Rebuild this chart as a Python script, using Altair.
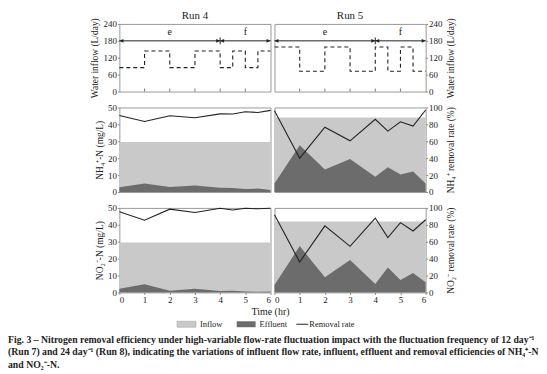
import altair as alt
import pandas as pd

# ---------------- data ----------------
hours = [0, 1, 2, 3, 4, 4.5, 5, 5.5, 6]
flow_run4 = [85, 144, 85, 144, 85, 144, 85, 144, 144]
flow_run5 = [158, 72, 158, 72, 158, 72, 158, 72, 72]

period_names = ["e", "f"]
period_start = [0, 4]
period_end = [4, 6]

nh4_inflow_run4 = 29.6
nh4_inflow_run5 = 44.0
nh4_eff_run4 = [2.8, 5.0, 3.0, 3.8, 2.5, 2.3, 1.8, 2.0, 1.2]
nh4_eff_run5 = [5.0, 27.6, 13.3, 19.5, 9.0, 14.6, 10.4, 12.1, 5.0]
nh4_rate_run4 = [90.6, 83.4, 90.2, 87.8, 92.4, 92.2, 95.0, 94.0, 96.6]
nh4_rate_run5 = [96.0, 40.0, 76.6, 60.5, 86.0, 72.0, 83.0, 78.0, 97.0]

no2_inflow_run4 = 29.6
no2_inflow_run5 = 42.0
no2_eff_run4 = [2.2, 4.8, 1.0, 2.2, 0.8, 1.0, 0.6, 0.4, 0.5]
no2_eff_run5 = [4.4, 27.4, 8.9, 19.2, 5.0, 14.8, 7.3, 11.5, 6.0]
no2_rate_run4 = [95.5, 85.5, 98.5, 94.5, 99.5, 97.5, 99.5, 99.0, 99.5]
no2_rate_run5 = [92.0, 36.0, 78.7, 54.5, 88.0, 65.0, 82.6, 72.7, 86.0]

run_names = ["Run 4", "Run 5"]
legend_labels = ["Inflow", "Effluent", "Removal rate"]
caption_lines = [
    "Fig. 3 \u2013 Nitrogen removal efficiency under high-variable flow-rate fluctuation impact with the fluctuation frequency of 12 day\u207b\u00b9",
    "(Run 7) and 24 day\u207b\u00b9 (Run 8), indicating the variations of influent flow rate, influent, effluent and removal efficiencies of NH\u2084\u207a-N",
    "and NO\u2082\u207b-N.",
]

# ---------------- style ----------------
FONT = "Liberation Serif"
LIGHT = "#c9c9c9"
DARK = "#6c6c6c"
INK = "#222222"
W = 152
H_TOP = 68
H_CONC = 85

# arrowhead paths with the tip at the symbol's origin
TIP_RIGHT = "M0,0L-2,-0.9L-2,0.9Z"
TIP_LEFT = "M0,0L2,-0.9L2,0.9Z"

xscale = alt.Scale(domain=[0, 6], nice=False, zero=False)


def right_axis(values, title):
    return alt.Axis(values=values, title=title, orient="right", titleAngle=270,
                    titleBaseline="top", titlePadding=4)


def flow_panel(flow, run, side):
    df = pd.DataFrame({"t": hours, "flow": flow})
    yscale = alt.Scale(domain=[0, 240], nice=False)
    if side == "left":
        yaxis = alt.Axis(values=[0, 60, 120, 180, 240], title="Water inflow (L/day)")
    else:
        yaxis = right_axis([0, 60, 120, 180, 240], "Water inflow (L/day)")
    x = alt.X("t:Q", scale=xscale, axis=None)
    line = alt.Chart(df).mark_line(
        interpolate="step-after", strokeDash=[4, 3], color=INK, strokeWidth=1.1
    ).encode(x=x, y=alt.Y("flow:Q", scale=yscale, axis=yaxis))

    per = pd.DataFrame({"name": period_names, "s": period_start, "e": period_end,
                        "lvl": [180, 180], "lab": [210, 210],
                        "mid": [(a + b) / 2 for a, b in zip(period_start, period_end)]})
    arrow = alt.Chart(per).mark_rule(color=INK, strokeWidth=1).encode(
        x=alt.X("s:Q", scale=xscale, axis=None), x2="e:Q",
        y=alt.Y("lvl:Q", scale=yscale, axis=yaxis))
    heads_l = alt.Chart(per).mark_point(shape=TIP_LEFT, filled=True, size=16,
                                        color=INK, opacity=1).encode(
        x=alt.X("s:Q", scale=xscale, axis=None), y=alt.Y("lvl:Q", scale=yscale, axis=yaxis))
    heads_r = alt.Chart(per).mark_point(shape=TIP_RIGHT, filled=True, size=16,
                                        color=INK, opacity=1).encode(
        x=alt.X("e:Q", scale=xscale, axis=None), y=alt.Y("lvl:Q", scale=yscale, axis=yaxis))
    divider = alt.Chart(per.iloc[[1]]).mark_rule(color=INK).encode(
        x=alt.X("s:Q", scale=xscale, axis=None),
        y=alt.value(H_TOP * (1 - 192 / 240)), y2=alt.value(H_TOP * (1 - 168 / 240)))
    labels = alt.Chart(per).mark_text(font=FONT, fontSize=10, color=INK).encode(
        x=alt.X("mid:Q", scale=xscale, axis=None), y=alt.Y("lab:Q", scale=yscale, axis=yaxis),
        text="name:N")
    ticks = alt.Chart(pd.DataFrame({"t": [1, 2, 3, 4, 5]})).mark_rule(color="#777").encode(
        x=alt.X("t:Q", scale=xscale, axis=None), y=alt.value(H_TOP), y2=alt.value(H_TOP - 3))
    head = alt.Chart(pd.DataFrame({"run": [run]})).mark_text(
        font=FONT, fontSize=11, color=INK, baseline="bottom").encode(
        text="run:N", x=alt.value(W / 2), y=alt.value(-3))
    return alt.layer(line, arrow, heads_l, heads_r, divider, labels, ticks, head).properties(
        width=W, height=H_TOP)


def conc_panel(inflow, eff, rate, side, ylabel, rlabel, show_x, extra=None):
    df = pd.DataFrame({"t": hours, "c": eff, "rate": rate})
    inflow_df = pd.DataFrame({"t": [0, 6], "c": [inflow, inflow]})
    if show_x:
        xaxis = alt.Axis(values=[0, 1, 2, 3, 4, 5, 6], format="d", title=None)
    else:
        xaxis = None
    x = alt.X("t:Q", scale=xscale, axis=xaxis)
    yscale = alt.Scale(domain=[0, 50], nice=False)
    rscale = alt.Scale(domain=[0, 100], nice=False)
    if side == "left":
        laxis = alt.Axis(values=[0, 10, 20, 30, 40, 50], title=ylabel)
        raxis = None
    else:
        laxis = None
        raxis = right_axis([0, 20, 40, 60, 80, 100], rlabel)
    a1 = alt.Chart(inflow_df).mark_area(color=LIGHT, opacity=1).encode(
        x=x, y=alt.Y("c:Q", scale=yscale, axis=laxis))
    a2 = alt.Chart(df).mark_area(color=DARK, opacity=1).encode(
        x=x, y=alt.Y("c:Q", scale=yscale, axis=laxis))
    areas = alt.layer(a1, a2)
    ln = alt.Chart(df).mark_line(color=INK, strokeWidth=1.1).encode(
        x=x, y=alt.Y("rate:Q", scale=rscale, axis=raxis))
    panel = alt.layer(areas, ln).resolve_scale(y="independent")
    if extra is not None:
        panel = alt.layer(panel, *extra)
    return panel.properties(width=W, height=H_CONC)


# ---------------- legend marks (placed under the bottom-left panel) ----------------
one = pd.DataFrame({"label": ["Time (hr)"]})
leg = pd.DataFrame({"label": legend_labels})
LY = H_CONC + 32
time_title = alt.Chart(one).mark_text(font=FONT, fontSize=10, color=INK).encode(
    text="label:N", x=alt.value(W), y=alt.value(H_CONC + 20))
box_in = alt.Chart(leg.iloc[[0]]).mark_rect(color=LIGHT, stroke="#999", strokeWidth=0.5).encode(
    x=alt.value(58), x2=alt.value(77), y=alt.value(LY - 3), y2=alt.value(LY + 3))
box_ef = alt.Chart(leg.iloc[[1]]).mark_rect(color=DARK).encode(
    x=alt.value(118), x2=alt.value(137), y=alt.value(LY - 3), y2=alt.value(LY + 3))
rule_rr = alt.Chart(leg.iloc[[2]]).mark_rule(color=INK, strokeWidth=1).encode(
    x=alt.value(178), x2=alt.value(190), y=alt.value(LY))
t_in = alt.Chart(leg.iloc[[0]]).mark_text(font=FONT, fontSize=8.5, align="left", color=INK).encode(
    text="label:N", x=alt.value(81), y=alt.value(LY))
t_ef = alt.Chart(leg.iloc[[1]]).mark_text(font=FONT, fontSize=8.5, align="left", color=INK).encode(
    text="label:N", x=alt.value(141), y=alt.value(LY))
t_rr = alt.Chart(leg.iloc[[2]]).mark_text(font=FONT, fontSize=8.5, align="left", color=INK).encode(
    text="label:N", x=alt.value(191), y=alt.value(LY))
legend_layers = [time_title, box_in, box_ef, rule_rr, t_in, t_ef, t_rr]

panels = [
    flow_panel(flow_run4, run_names[0], "left"),
    flow_panel(flow_run5, run_names[1], "right"),
    conc_panel(nh4_inflow_run4, nh4_eff_run4, nh4_rate_run4, "left",
               "NH\u2084\u207a-N (mg/L)", None, False),
    conc_panel(nh4_inflow_run5, nh4_eff_run5, nh4_rate_run5, "right",
               None, "NH\u2084\u207a removal rate (%)", False),
    conc_panel(no2_inflow_run4, no2_eff_run4, no2_rate_run4, "left",
               "NO\u2082\u207b-N (mg/L)", None, True, extra=legend_layers),
    conc_panel(no2_inflow_run5, no2_eff_run5, no2_rate_run5, "right",
               None, "NO\u2082\u207b removal rate (%)", True),
]

chart = alt.concat(*panels, columns=2, spacing={"row": 16, "column": 4},
                   bounds="flush").properties(
    padding={"left": 0, "top": 0, "right": 0, "bottom": 0},
    title=alt.TitleParams(caption_lines, orient="bottom", anchor="start", frame="group",
                          dx=-112, offset=6, font=FONT, fontSize=9.8, fontWeight="bold",
                          lineHeight=12.3, color=INK),
).configure_view(stroke="#999", strokeWidth=1).configure_axis(
    labelFont=FONT, titleFont=FONT, labelFontSize=9, titleFontSize=9.5,
    titleFontWeight="normal", labelColor=INK, titleColor=INK, grid=False,
    domain=False, tickColor="#888", tickSize=2, labelPadding=1, titlePadding=3,
)

chart.save("out.html", embed_options={"renderer": "svg", "actions": False})
